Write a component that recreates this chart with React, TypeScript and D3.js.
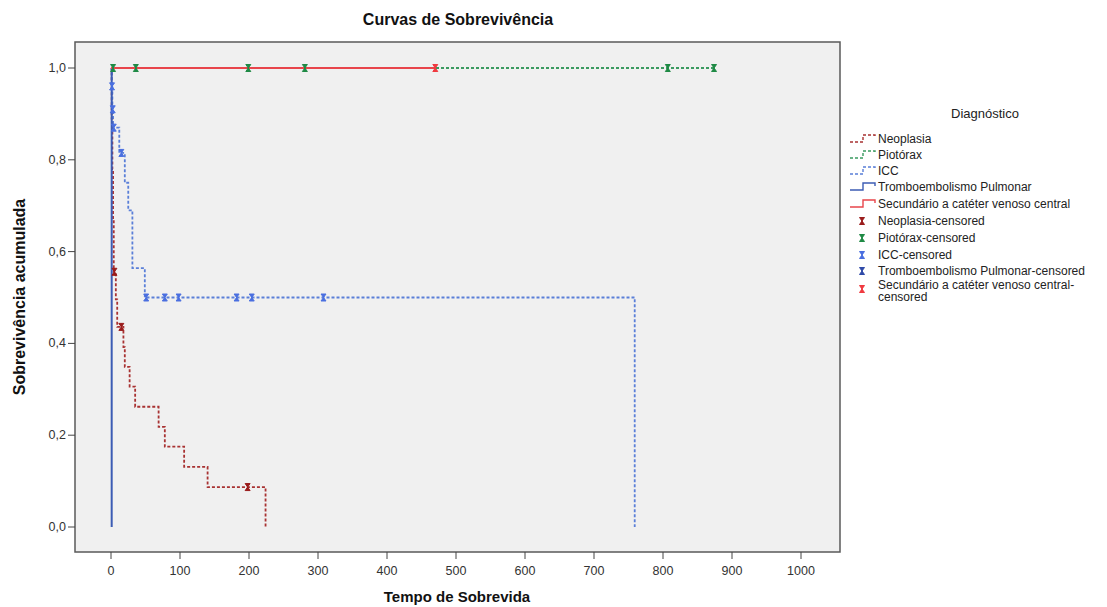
import React from "react";
import * as d3 from "d3";

// ---- data ----
const xTicks = [0, 100, 200, 300, 400, 500, 600, 700, 800, 900, 1000];
const yTicks = [0, 0.2, 0.4, 0.6, 0.8, 1.0];

const neoTimes = [0, 1, 2, 3, 4, 7, 9, 18, 20, 27, 35, 69, 78, 106, 140, 224];
const neoSurv = [1, 0.89, 0.78, 0.67, 0.556, 0.496, 0.436, 0.392, 0.349, 0.306, 0.262, 0.218, 0.175, 0.131, 0.087, 0];
const neoCensT = [5, 15, 198];
const neoCensS = [0.556, 0.436, 0.087];

const pioTimes = [0, 874];
const pioSurv = [1, 1];
const pioCensT = [3, 36, 199, 281, 807, 874];
const pioCensS = [1, 1, 1, 1, 1, 1];

const iccTimes = [0, 1, 2, 3, 12, 20, 25, 31, 49, 759];
const iccSurv = [1, 0.96, 0.91, 0.87, 0.815, 0.75, 0.69, 0.564, 0.5, 0];
const iccCensT = [1.5, 2.5, 4, 15, 51, 78, 98, 182, 204, 308];
const iccCensS = [0.96, 0.91, 0.87, 0.815, 0.5, 0.5, 0.5, 0.5, 0.5, 0.5];

const tepTimes = [0, 1];
const tepSurv = [1, 0];
const tepCensT: number[] = [];
const tepCensS: number[] = [];

const secTimes = [0, 470];
const secSurv = [1, 1];
const secCensT = [470];
const secCensS = [1];

const seriesNames = [
  "Neoplasia",
  "Piotórax",
  "ICC",
  "Tromboembolismo Pulmonar",
  "Secundário a catéter venoso central",
];

const lineColors = ["#a83232", "#3a9a60", "#5a7fd8", "#3c5cb4", "#e8454b"];
const censColors = ["#9a1c1c", "#1f8a45", "#4a6fe0", "#2f4aa8", "#f03a40"];
const dashed = [true, true, true, false, false];

export default function App() {
  const W = 1107, H = 607;
  const x = d3.scaleLinear().domain([0, 1000]).range([111, 801]);
  const y = d3.scaleLinear().domain([0, 1]).range([527, 68]);
  const frame = { x0: 75, x1: 840, y0: 42, y1: 552 };

  const series = [
    { t: neoTimes, s: neoSurv, ct: neoCensT, cs: neoCensS },
    { t: pioTimes, s: pioSurv, ct: pioCensT, cs: pioCensS },
    { t: iccTimes, s: iccSurv, ct: iccCensT, cs: iccCensS },
    { t: tepTimes, s: tepSurv, ct: tepCensT, cs: tepCensS },
    { t: secTimes, s: secSurv, ct: secCensT, cs: secCensS },
  ];

  const line = d3
    .line<[number, number]>()
    .x((d) => x(d[0]))
    .y((d) => y(d[1]))
    .curve(d3.curveStepAfter);

  const hourglass = "M-2.5,-3.5H2.5L0,0ZM-2.5,3.5H2.5L0,0ZM0,-3.5V3.5";
  const font = "'Liberation Sans', Arial, sans-serif";
  const fmt = (v: number) => v.toFixed(1).replace(".", ",");

  const legendX = 850;
  const legY = [139, 155, 171, 187, 204];
  const censY = [221, 238, 255, 271, 289];

  return (
    <svg width={W} height={H} style={{ position: "absolute", left: 0, top: 0, background: "#fff" }} fontFamily={font}>
      <rect x={0} y={0} width={W} height={H} fill="#fff" />
      <text x={458} y={25} textAnchor="middle" fontSize={16} fontWeight="bold" fill="#111">
        Curvas de Sobrevivência
      </text>
      <rect x={frame.x0} y={frame.y0} width={frame.x1 - frame.x0} height={frame.y1 - frame.y0} fill="#f0f0f0" stroke="#5a5a5a" strokeWidth={1.5} />

      {/* y axis ticks */}
      {yTicks.map((v) => (
        <g key={"y" + v}>
          <line x1={frame.x0 - 7} x2={frame.x0} y1={y(v)} y2={y(v)} stroke="#444" strokeWidth={1} />
          <text x={frame.x0 - 9} y={y(v) + 4} textAnchor="end" fontSize={12.5} fill="#333">
            {fmt(v)}
          </text>
        </g>
      ))}
      {/* x axis ticks */}
      {xTicks.map((v) => (
        <g key={"x" + v}>
          <line x1={x(v)} x2={x(v)} y1={frame.y1} y2={frame.y1 + 7} stroke="#444" strokeWidth={1} />
          <text x={x(v)} y={frame.y1 + 23} textAnchor="middle" fontSize={12.5} fill="#333">
            {v}
          </text>
        </g>
      ))}
      <text x={457} y={602} textAnchor="middle" fontSize={15} fontWeight="bold" fill="#111">
        Tempo de Sobrevida
      </text>
      <text transform="translate(25,297) rotate(-90)" textAnchor="middle" fontSize={16} fontWeight="bold" fill="#111">
        Sobrevivência acumulada
      </text>

      {/* curves */}
      {series.map((sr, i) => (
        <path
          key={"c" + i}
          d={line(sr.t.map((t, j) => [t, sr.s[j]] as [number, number])) || ""}
          fill="none"
          stroke={lineColors[i]}
          strokeWidth={dashed[i] ? 1.8 : 2}
          strokeDasharray={dashed[i] ? "3,2" : undefined}
        />
      ))}
      {series.map((sr, i) =>
        sr.ct.map((t, j) => (
          <path
            key={"m" + i + "-" + j}
            d={hourglass}
            transform={`translate(${x(t)},${y(sr.cs[j])})`}
            fill={censColors[i]}
            stroke={censColors[i]}
            strokeWidth={1}
          />
        ))
      )}

      {/* legend */}
      <text x={985} y={118} textAnchor="middle" fontSize={13} fill="#222">
        Diagnóstico
      </text>
      {seriesNames.map((n, i) => (
        <g key={"l" + i}>
          <path
            d={`M${legendX},${legY[i] + 3}H${legendX + 13}V${legY[i] - 4}H${legendX + 25}V${legY[i] - 1}`}
            fill="none"
            stroke={lineColors[i]}
            strokeWidth={1.4}
            strokeDasharray={dashed[i] ? "3,2" : undefined}
          />
          <text x={878} y={legY[i] + 4} fontSize={12} fill="#222">
            {n}
          </text>
        </g>
      ))}
      {seriesNames.map((n, i) => (
        <g key={"lc" + i}>
          <path d={hourglass} transform={`translate(862,${censY[i]})`} fill={censColors[i]} stroke={censColors[i]} strokeWidth={1} />
          {i < 4 ? (
            <text x={878} y={censY[i] + 4} fontSize={12} fill="#222">
              {n}-censored
            </text>
          ) : (
            <text x={878} y={censY[i]} fontSize={12} fill="#222">
              <tspan x={878}>{n}-</tspan>
              <tspan x={878} dy={12}>censored</tspan>
            </text>
          )}
        </g>
      ))}
    </svg>
  );
}
